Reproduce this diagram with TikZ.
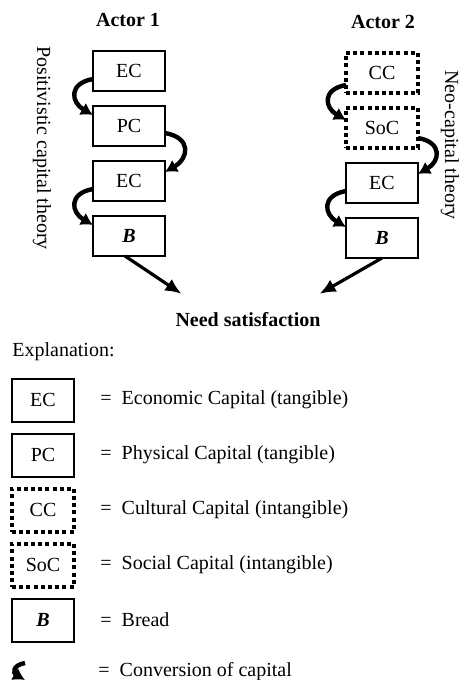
\documentclass[tikz,border=0pt]{standalone}
\usepackage{fontspec}
\setmainfont{Liberation Serif}
\usetikzlibrary{arrows.meta,positioning}
\tikzset{
  capbox/.style={draw,line width=1pt,minimum width=36pt,minimum height=20pt,inner sep=0pt,outer sep=0pt},
  intbox/.style={capbox,line width=2pt,dash pattern=on 2pt off 1.6pt},
  keybox/.style={capbox,minimum width=31pt,minimum height=21.5pt},
  keyint/.style={intbox,minimum width=31pt,minimum height=21.5pt},
  keytext/.style={anchor=west,inner sep=0pt},
  conv/.style={line width=2.2pt,-{Latex[length=6pt,width=7pt]}},
  need/.style={line width=1.6pt,-{Latex[length=8pt,width=7pt]}}
}

\begin{document}
\begin{tikzpicture}[x=0.5pt,y=-0.5pt,node distance=7.5pt]
\useasboundingbox (0,0) rectangle (470,680);
% actor 1
\node [font=\bfseries] (a1) at (128,20) {Actor 1};
\node [capbox] (e1) at (129,71) {EC};
\node [capbox,below=of e1] (p1) {PC};
\node [capbox,below=of p1] (e2) {EC};
\node [capbox,below=of e2] (b1) {\textbf{\textit{B}}};
\node [rotate=-90] (pt) at (42,148) {Positivistic capital theory};
% actor 2
\node [font=\bfseries] (a2) at (383,22) {Actor 2};
\node [intbox] (c2) at (382,73) {CC};
\node [intbox,below=of c2] (s2) {SoC};
\node [capbox,below=of s2] (e3) {EC};
\node [capbox,below=of e3] (b2) {\textbf{\textit{B}}};
\node [rotate=-90] (nt) at (450,145) {Neo-capital theory};
\node [font=\bfseries] (ns) at (248,320) {Need satisfaction};
% conversions
\draw [conv] ([yshift=6pt]e1.south west) to [out=190,in=150,looseness=1.8] ([yshift=-4.5pt]p1.north west);
\draw [conv] ([yshift=6.5pt]p1.south east) to [out=-10,in=30,looseness=1.8] ([yshift=-5.5pt]e2.north east);
\draw [conv] ([yshift=6pt]e2.south west) to [out=190,in=150,looseness=1.8] ([yshift=-4.5pt]b1.north west);
\draw [conv] ([yshift=4pt]c2.south west) to [out=190,in=150,looseness=1.8] ([yshift=-6pt]s2.north west);
\draw [conv] ([yshift=5pt]s2.south east) to [out=-10,in=30,looseness=1.8] ([yshift=-5.5pt]e3.north east);
\draw [conv] ([yshift=6pt]e3.south west) to [out=190,in=150,looseness=1.8] ([yshift=-4.5pt]b2.north west);
\draw [need] ([xshift=-2pt]b1.south) -- ([shift={(13,-12)}]ns.north west);
\draw [need] (b2.south) -- ([shift={(-8,-12)}]ns.north east);
% explanation
\node [keytext] (ex) at (12,352) {Explanation:};
\node [keybox] (kec) at (43,400) {EC};
\node [keybox,below=6pt of kec] (kpc) {PC};
\node [keyint,below=6pt of kpc] (kcc) {CC};
\node [keyint,below=6pt of kcc] (ksoc) {SoC};
\node [keybox,below=6pt of ksoc] (kb) {\textbf{\textit{B}}};
\coordinate (kv1) at (25,663);
\coordinate (kv2) at (25,680);
\draw [conv] (kv1) to [out=190,in=150,looseness=2] (kv2);
\node [keytext,right=13pt of kec] (tec) {=\enspace Economic Capital (tangible)};
\node [keytext,right=13pt of kpc] (tpc) {=\enspace Physical Capital (tangible)};
\node [keytext,right=13pt of kcc] (tcc) {=\enspace Cultural Capital (intangible)};
\node [keytext,right=13pt of ksoc] (tsoc) {=\enspace Social Capital (intangible)};
\node [keytext,right=13pt of kb] (tb) {=\enspace Bread};
\node [keytext] (tv) at (98,672) {=\enspace Conversion of capital};
\end{tikzpicture}
\end{document}
